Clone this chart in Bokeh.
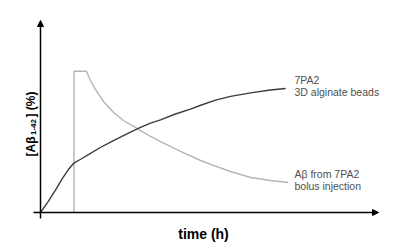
import numpy as np
from bokeh.plotting import figure
from bokeh.models import Range1d, Arrow, NormalHead, Label
from bokeh.embed import file_html
from bokeh.resources import INLINE

# time in arbitrary hours, concentration in % (bolus peak = 100)
beads_time = [0.0, 0.21, 0.44, 0.65, 0.82, 0.97, 1.18, 1.47, 1.76, 2.06, 2.35, 2.65, 2.94,
              3.24, 3.53, 3.97, 4.41, 4.71, 5.15, 5.59, 6.18, 6.76, 7.21]
beads_conc = [0.0, 7.1, 15.9, 24.4, 30.4, 34.7, 37.7, 41.9, 46.0, 49.8, 53.4, 56.9, 60.2,
              63.3, 65.5, 69.7, 73.2, 75.9, 79.5, 82.2, 84.7, 86.7, 87.8]

bolus_time = [0.985, 0.985, 1.35, 1.47, 1.62, 1.85, 2.15, 2.44, 2.74, 2.94, 3.24, 3.53, 4.12,
              4.71, 5.0, 5.59, 6.18, 6.76, 7.29]
bolus_conc = [0.0, 100.0, 100.0, 93.4, 87.0, 78.6, 70.8, 65.1, 60.9, 58.0, 53.8, 50.2, 43.2,
              36.8, 34.0, 29.0, 24.8, 22.6, 21.2]

sx = 34.0   # px per time unit
sy = 1.413  # px per % unit

p = figure(width=400, height=250, output_backend="svg", toolbar_location=None,
           x_axis_type=None, y_axis_type=None, min_border=0,
           x_range=Range1d(-40 / sx, 360 / sx), y_range=Range1d(-38 / sy, 212 / sy))
p.outline_line_color = None
p.background_fill_color = "white"

# axes with arrows
p.add_layout(Arrow(end=NormalHead(size=6, fill_color="black", line_color="black", line_width=1),
                   x_start=-7 / sx, y_start=0, x_end=338 / sx, y_end=0,
                   line_color="black", line_width=1.5))
p.add_layout(Arrow(end=NormalHead(size=6, fill_color="black", line_color="black", line_width=1),
                   x_start=0, y_start=-6 / sy, x_end=0, y_end=192 / sy,
                   line_color="black", line_width=1.5))

p.line(bolus_time, bolus_conc, line_color="#b4b4b4", line_width=1.4)
p.line(beads_time, beads_conc, line_color="#3c3c3c", line_width=1.4)

lab = dict(text_font="Liberation Sans", text_font_size="10.5px", text_color="#505050",
           text_baseline="middle", text_align="left")
p.add_layout(Label(x=7.47, y=94.1, text="7PA2", **lab))
p.add_layout(Label(x=7.47, y=85.6, text="3D alginate beads", **lab))
p.add_layout(Label(x=7.47, y=26.9, text="Aβ from 7PA2", **lab))
p.add_layout(Label(x=7.47, y=19.1, text="bolus injection", **lab))

p.add_layout(Label(x=203, y=17, x_units="screen", y_units="screen", text="time (h)",
                   text_font="Liberation Sans", text_font_size="14px", text_font_style="bold",
                   text_color="black", text_align="center", text_baseline="middle"))

yl = dict(x_units="screen", y_units="screen", angle=np.pi / 2, text_font="Liberation Sans",
          text_font_style="bold", text_color="black", text_align="left",
          text_baseline="alphabetic")
p.add_layout(Label(x=30.5, y=94, text="[Aβ", text_font_size="12px", **yl))
p.add_layout(Label(x=32.5, y=115.5, text="1-42", text_font_size="8px", **yl))
p.add_layout(Label(x=30.5, y=133, text="] (%)", text_font_size="12px", **yl))

open("out.html", "w").write(file_html(p, INLINE))
